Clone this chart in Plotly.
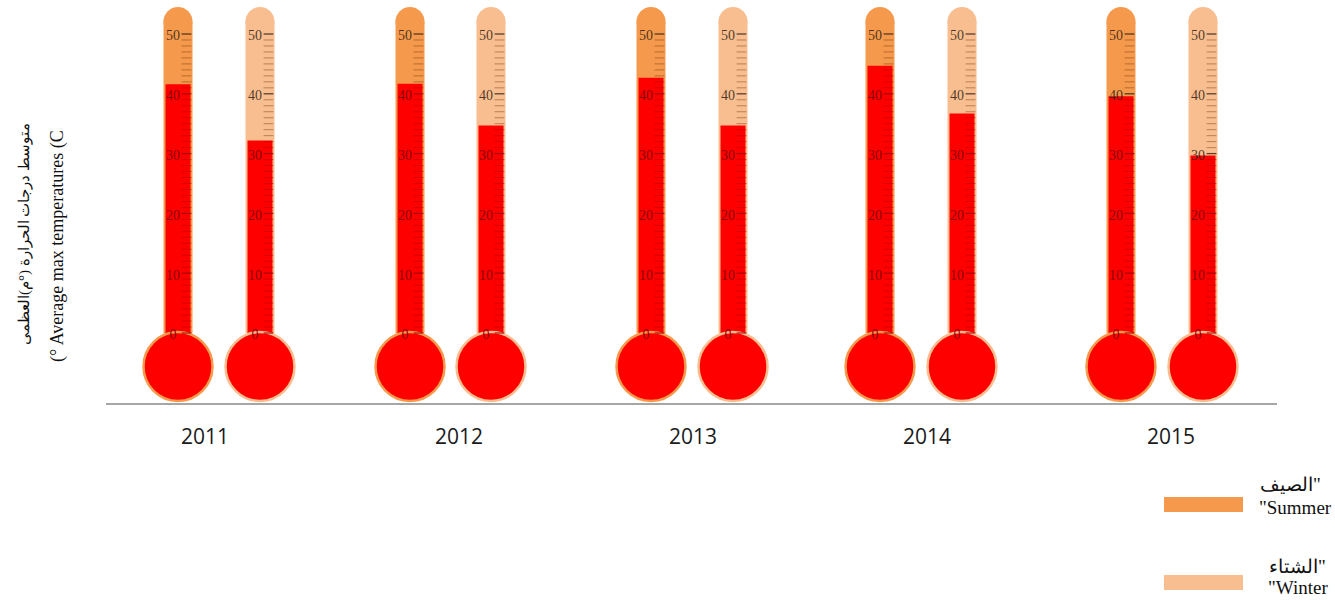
import plotly.graph_objects as go

# ---- data ----
years = ["2011", "2012", "2013", "2014", "2015"]
summer = [41.6, 41.7, 42.7, 44.7, 39.6]
winter = [32.2, 34.7, 34.7, 36.7, 29.7]
scale_labels = [0, 10, 20, 30, 40, 50]
scale_minor = list(range(0, 51))
scale_top = 52.1
bulb_level = -5.6

# ---- layout constants (pixel-like x axis) ----
W, H = 1335, 600
AXIS_L, AXIS_R, AXIS_PY = 106, 1277, 403
ZERO_PY, PX_PER_DEG = 333, 5.98
summer_x = [178, 410, 651, 880, 1121]
winter_x = [260, 491, 733, 962, 1203]
year_x = [205, 459, 693, 927, 1171]
SUMMER_C, WINTER_C, RED = "#F59A4C", "#F9BE8F", "#FF0000"
all_x = summer_x + winter_x
all_levels = summer + winter


def px(v):
    return (v - AXIS_L) / (AXIS_R - AXIS_L)


def py(v):
    return (AXIS_PY - v) / AXIS_PY


fig = go.Figure()

# glass tubes with their domed caps
for xs, colour in ((summer_x, SUMMER_C), (winter_x, WINTER_C)):
    fig.add_bar(x=xs, y=[scale_top] * len(xs), base=0, width=29,
                marker=dict(color=colour, line_width=0),
                hoverinfo="skip")
    fig.add_scatter(x=xs, y=[scale_top] * len(xs), mode="markers",
                    marker=dict(size=29, color=colour, line_width=0),
                    hoverinfo="skip", cliponaxis=False)

# mercury columns
fig.add_bar(x=summer_x, y=summer, base=0, width=25,
            marker=dict(color=RED, line_width=0), name="Summer")
fig.add_bar(x=winter_x, y=winter, base=0, width=25,
            marker=dict(color=RED, line_width=0), name="Winter")

# bulbs
for xs, colour in ((summer_x, SUMMER_C), (winter_x, WINTER_C)):
    fig.add_scatter(x=xs, y=[bulb_level] * len(xs), mode="markers",
                    marker=dict(size=69, color=RED, line=dict(color=colour, width=2.5)),
                    hoverinfo="skip", cliponaxis=False)

# scale ticks: dim on the red column, dark on the bare tube
tx, ty, tc = [], [], []
mx, my, mc = [], [], []
for c, level in zip(all_x, all_levels):
    for v in scale_minor:
        if v in scale_labels:
            mx.append(c + 8.5)
            my.append(v)
            mc.append("rgba(150,0,0,0.8)" if v < level else "rgba(50,30,20,0.8)")
        else:
            tx.append(c + 8.5)
            ty.append(v)
            tc.append("rgba(190,0,0,0.6)" if v < level else "rgba(110,50,10,0.45)")
fig.add_scatter(x=tx, y=ty, mode="markers", hoverinfo="skip",
                marker=dict(symbol="line-ew", size=7, line=dict(color=tc, width=1)))
fig.add_scatter(x=mx, y=my, mode="markers", hoverinfo="skip",
                marker=dict(symbol="line-ew", size=7, line=dict(color=mc, width=1.3)))

# scale labels
lx, ly, lt, lc = [], [], [], []
for c, level in zip(all_x, all_levels):
    for v in scale_labels:
        lx.append(c - 5)
        ly.append(v - 0.5)
        lt.append(str(v))
        lc.append("rgba(120,0,0,0.9)" if v < level else "rgba(50,30,20,0.85)")
fig.add_scatter(x=lx, y=ly, mode="text", text=lt, hoverinfo="skip",
                textposition="middle center",
                textfont=dict(family="Liberation Sans Narrow", size=14, color=lc))

# legend swatches and text
shapes = []
for top, bottom, colour in ((497, 512, SUMMER_C), (575, 590, WINTER_C)):
    shapes.append(dict(type="rect", xref="paper", yref="paper",
                       x0=px(1164), x1=px(1243), y0=py(bottom), y1=py(top),
                       fillcolor=colour, line_width=0))

annos = []
for text, x_c, y_c, size in (
    ("الصيف\"", 1290, 485, 19),
    ("\"Summer", 1295, 507, 19),
    ("الشتاء\"", 1297, 566, 19),
    ("\"Winter", 1298, 587, 19),
):
    annos.append(dict(text=text, xref="paper", yref="paper", x=px(x_c), y=py(y_c),
                      xanchor="center", yanchor="middle", showarrow=False,
                      font=dict(family="Liberation Serif", size=size, color="#111111")))

for text, x_c, y_c, size in (
    ("متوسط درجات الحرارة (°م)العظمى", 25, 234, 15),
    ("(° Average max temperatures (C", 57, 246, 18),
):
    annos.append(dict(text=text, xref="paper", yref="paper", x=px(x_c), y=py(y_c),
                      xanchor="center", yanchor="middle", showarrow=False, textangle=-90,
                      font=dict(family="Liberation Serif", size=size, color="#111111")))

fig.update_layout(
    width=W, height=H, autosize=False,
    margin=dict(l=AXIS_L, r=W - AXIS_R, t=0, b=H - AXIS_PY, pad=0),
    paper_bgcolor="white", plot_bgcolor="white",
    barmode="overlay", showlegend=False,
    shapes=shapes, annotations=annos,
    xaxis=dict(range=[AXIS_L, AXIS_R], tickmode="array", tickvals=year_x, ticktext=years,
               showgrid=False, zeroline=False, showline=True, linecolor="#A6A6A6", linewidth=2,
               ticks="", ticklabelstandoff=14,
               tickfont=dict(family="Open Sans", size=21, color="#1a1a1a")),
    yaxis=dict(range=[(ZERO_PY - AXIS_PY) / PX_PER_DEG, ZERO_PY / PX_PER_DEG],
               visible=False, showgrid=False, zeroline=False),
)

fig.write_html("out.html", config={"displayModeBar": False},
               post_script="document.body.style.margin='0';document.documentElement.style.overflow='hidden';")
